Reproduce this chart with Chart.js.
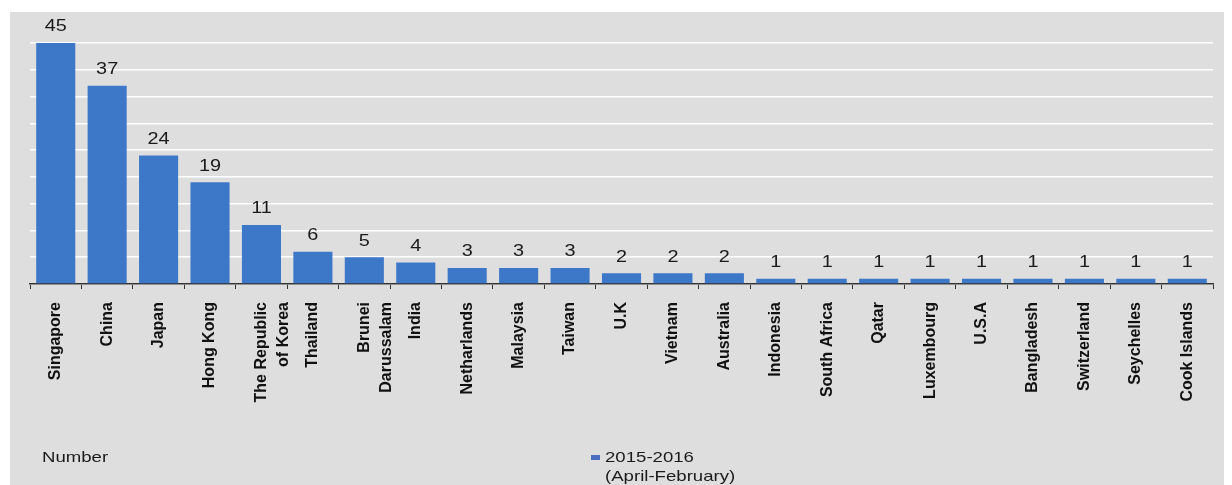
<!DOCTYPE html>
<html>
<head>
<meta charset="utf-8">
<script src="https://cdn.jsdelivr.net/npm/chart.js@4.4.1/dist/chart.umd.min.js"></script>
<style>
  html, body { margin: 0; padding: 0; background: #fff; }
  #wrap { width: 1232px; height: 485px; position: relative; }
</style>
</head>
<body>
<div id="wrap"><canvas id="myChart"></canvas></div>
<script>
const countries = [
  "Singapore", "China", "Japan", "Hong Kong", ["The Republic", "of Korea"],
  "Thailand", ["Brunei", "Darussalam"], "India", "Netharlands", "Malaysia",
  "Taiwan", "U.K", "Vietnam", "Australia", "Indonesia", "South Africa",
  "Qatar", "Luxembourg", "U.S.A", "Bangladesh", "Switzerland", "Seychelles",
  "Cook Islands"
];
const counts = [45, 37, 24, 19, 11, 6, 5, 4, 3, 3, 3, 2, 2, 2, 1, 1, 1, 1, 1, 1, 1, 1, 1];
const seriesName = ["2015-2016", "(April-February)"];
const unitLabel = "Number";

// the source picture is a bit stretched sideways, so text is widened
function wideText(c, txt, x, y) {
  c.save();
  c.translate(x, y);
  c.scale(1.24, 1);
  c.fillText(txt, 0, 0);
  c.restore();
}

const panel = {
  id: "panel",
  beforeDraw(chart) {
    const c = chart.ctx;
    c.save();
    c.fillStyle = "#ffffff";
    c.fillRect(0, 0, chart.width, chart.height);
    c.fillStyle = "#dedede";
    c.fillRect(10, 12, 1214, chart.height - 12);
    c.restore();
  }
};

// numbers above each bar
const barValues = {
  id: "barValues",
  afterDatasetsDraw(chart) {
    const c = chart.ctx;
    const meta = chart.getDatasetMeta(0);
    c.save();
    c.font = "16px 'Liberation Sans', Arial, sans-serif";
    c.fillStyle = "#1a1a1a";
    c.textAlign = "center";
    c.textBaseline = "bottom";
    meta.data.forEach((bar, i) => {
      wideText(c, String(counts[i]), bar.x, bar.y - 8);
    });
    c.restore();
  }
};

// "Number" note and the legend at the bottom
const footer = {
  id: "footer",
  afterDraw(chart) {
    const c = chart.ctx;
    c.save();
    c.font = "15px 'Liberation Sans', Arial, sans-serif";
    c.fillStyle = "#1a1a1a";
    c.textBaseline = "alphabetic";
    wideText(c, unitLabel, 42, 462);
    c.fillStyle = "#4a6fc0";
    c.fillRect(591, 455, 9, 5);
    c.fillStyle = "#1a1a1a";
    wideText(c, seriesName[0], 605, 462);
    wideText(c, seriesName[1], 605, 481);
    c.restore();
  }
};

const ctx = document.getElementById("myChart");

new Chart(ctx, {
  type: "bar",
  data: {
    labels: countries,
    datasets: [
      {
        label: seriesName.join(" "),
        data: counts,
        backgroundColor: "#3d78c8",
        borderWidth: 0,
        barPercentage: 0.76,
        categoryPercentage: 1.0,
      },
    ],
  },
  options: {
    responsive: true,
    maintainAspectRatio: false,
    animation: false,
    layout: {
      padding: { left: 30, right: 19, top: 43, bottom: 0 },
    },
    plugins: {
      legend: { display: false },
      tooltip: { enabled: false },
    },
    scales: {
      x: {
        grid: {
          offset: true,
          drawOnChartArea: false,
          drawTicks: true,
          tickLength: 5,
          color: "#333",
        },
        border: { color: "#333", width: 1.5 },
        ticks: {
          autoSkip: false,
          maxRotation: 90,
          minRotation: 90,
          padding: 13,
          color: "#111",
          font: { family: "'Liberation Sans', Arial, sans-serif", size: 16, weight: "bold", lineHeight: 1.4 },
        },
        afterFit(scale) {
          scale.height = 201;
        },
      },
      y: {
        min: 0,
        max: 45,
        ticks: { display: false, stepSize: 5 },
        grid: { color: "#ffffff", lineWidth: 1.5, drawTicks: false },
        border: { display: false },
        afterFit(scale) {
          scale.width = 0;
        },
      },
    },
  },
  plugins: [panel, barValues, footer],
});
</script>
</body>
</html>
